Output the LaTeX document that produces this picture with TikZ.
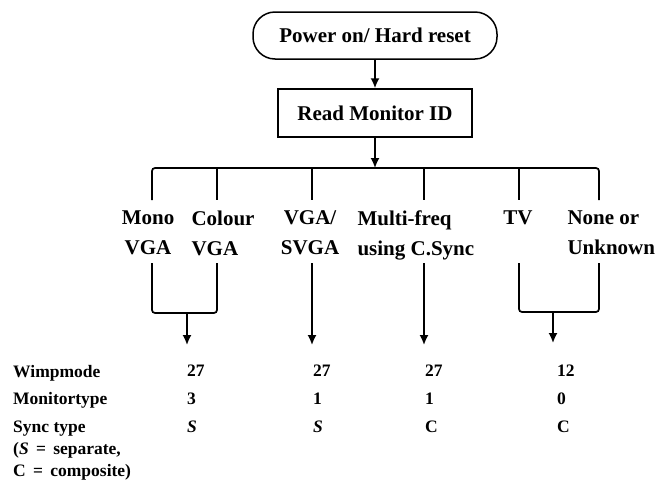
\documentclass[tikz,border=0pt]{standalone}
\usepackage{fontspec}
\setmainfont{Liberation Serif}
\usetikzlibrary{arrows.meta}
\usetikzlibrary{calc}

\tikzset{
  box/.style={draw, line width=1.5pt},
  big/.style={font=\fontsize{21}{30}\selectfont\bfseries},
  small/.style={font=\fontsize{17.5}{20}\selectfont\bfseries, inner sep=0pt, anchor=base west},
  link/.style={line width=1.7pt},
  flow/.style={line width=1.7pt, -{Latex[length=10pt,width=9pt]}}
}

\begin{document}
\begin{tikzpicture}[x=1pt,y=-1pt]
  \useasboundingbox (0,0) rectangle (657,488);
  % start and monitor id
  \node[box, big, rounded corners=22pt, minimum width=244pt, minimum height=47pt] (power) at (375,35.5) {Power on/ Hard reset};
  \node[box, big, minimum width=194pt, minimum height=48pt] (read) at (375,113) {Read Monitor ID};
  \coordinate (bus) at (375,168);
  \draw[flow] (power) -- (read);
  \draw[flow] (read) -- (bus);

  % branches
  \foreach \name/\x in {mono/152,colour/217,vga/312,multi/424,tv/519,none/599} {
    \coordinate (\name-up) at (\x,168);
    \coordinate (\name-top) at (\x,200);
    \coordinate (\name-bot) at (\x,263);
  }
  \draw[link, rounded corners=3pt] (mono-top) -- (mono-up) -- (none-up) -- (none-top);
  \foreach \name in {colour,vga,multi,tv}
    \draw[link] (\name-up) -- (\name-top);

  \node[big, align=center] (mono) at (148,233) {Mono\\VGA};
  \node[big, align=left, anchor=west] (colour) at (188,233) {Colour\\VGA};
  \node[big, align=center] (vga) at (310,233) {VGA/\\SVGA};
  \node[big, align=left, anchor=west] (multi) at (354,235) {Multi-freq\\using C.Sync};
  \node[big] (tv) at (518,218) {TV};
  \node[big, align=left, anchor=west] (none) at (564,233) {None or\\Unknown};

  % joins and arrows down
  \coordinate (mcjoin) at (187,313);
  \coordinate (tnjoin) at (553,312);
  \coordinate (mcend) at (187,345);
  \coordinate (vgaend) at (312,345);
  \coordinate (multiend) at (424,345);
  \coordinate (tnend) at (553,343);
  \draw[link, rounded corners=3pt] (mono-bot) |- (mcjoin) -| (colour-bot);
  \draw[link, rounded corners=3pt] (tv-bot) |- (tnjoin) -| (none-bot);
  \draw[flow] (mcjoin) -- (mcend);
  \draw[flow] (vga-bot) -- (vgaend);
  \draw[flow] (multi-bot) -- (multiend);
  \draw[flow] (tnjoin) -- (tnend);

  % table
  \node[small] (wimp) at (13,377) {Wimpmode};
  \node[small] (montype) at (13,404) {Monitortype};
  \node[small] (sync) at (13,432) {Sync type};
  \node[small] (sep) at (13,454) {(\textit{S} \,=\, separate,};
  \node[small] (comp) at (13,476) {C \,=\, composite)};

  \node[small] (wimpa) at (187,376) {27};
  \node[small] (wimpb) at (313,376) {27};
  \node[small] (wimpc) at (425,376) {27};
  \node[small] (wimpd) at (557,376) {12};
  \node[small] (typea) at (187,404) {3};
  \node[small] (typeb) at (313,404) {1};
  \node[small] (typec) at (425,404) {1};
  \node[small] (typed) at (557,404) {0};
  \node[small] (synca) at (187,432) {\textit{S}};
  \node[small] (syncb) at (313,432) {\textit{S}};
  \node[small] (syncc) at (425,432) {C};
  \node[small] (syncd) at (557,432) {C};
\end{tikzpicture}
\end{document}
